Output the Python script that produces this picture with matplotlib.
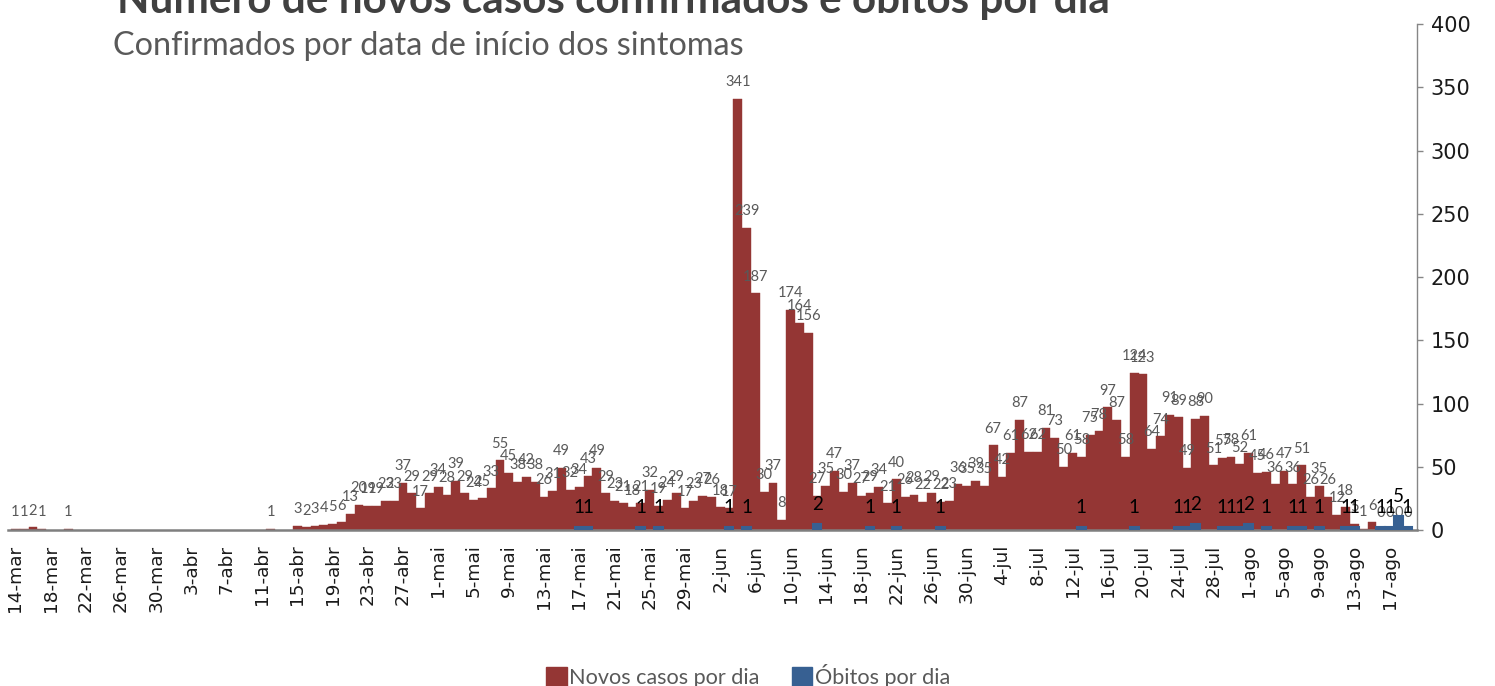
import numpy as np
import pandas as pd
import matplotlib
matplotlib.use("Agg")
import matplotlib.pyplot as plt
from matplotlib.patches import Patch

N = None

# novos casos por dia (14-mar .. 19-ago); None = sem registo
casos_mar = [1, 1, 2, 1, N, N, 1, N, N, N, N, N, N, N, N, N, N, N]
casos_abr = [N, N, N, N, N, N, N, N, N, N, N, 1, N, N, 3, 2, 3, 4, 5, 6,
             13, 20, 19, 19, 23, 23, 37, 29, 17, 29]
casos_mai = [34, 28, 39, 29, 24, 25, 33, 55, 45, 38, 42, 38, 26, 31, 49, 32,
             34, 43, 49, 29, 23, 21, 18, 21, 32, 19, 24, 29, 17, 23, 27]
casos_jun = [26, 18, 17, 341, 239, 187, 30, 37, 8, 174, 164, 156, 27, 35, 47,
             30, 37, 27, 29, 34, 21, 40, 26, 28, 22, 29, 22, 23, 36, 35]
casos_jul = [39, 35, 67, 42, 61, 87, 62, 62, 81, 73, 50, 61, 58, 75, 78, 97,
             87, 58, 124, 123, 64, 74, 91, 89, 49, 88, 90, 51, 57, 58, 52]
casos_ago = [61, 45, 46, 36, 47, 36, 51, 26, 35, 26, 12, 18, 5, 1, 6, 0, 0, 0, 0]

# óbitos por dia
obitos_mar = [N] * 18
obitos_abr = [N] * 30
obitos_mai = [N, N, N, N, N, N, N, N, N, N, N, N, N, N, N, N, 1, 1, N, N,
              N, N, N, 1, N, 1, N, N, N, N, N]
obitos_jun = [N, N, 1, N, 1, N, N, N, N, N, N, N, 2, N, N, N, N, N, 1, N,
              N, 1, N, N, N, N, 1, N, N, N]
obitos_jul = [N, N, N, N, N, N, N, N, N, N, N, N, 1, N, N, N, N, N, 1, N,
              N, N, N, 1, 1, 2, N, N, 1, 1, 1]
obitos_ago = [2, N, 1, N, N, 1, 1, N, 1, N, N, 1, 1, N, N, 1, 1, 5, 1]

casos = casos_mar + casos_abr + casos_mai + casos_jun + casos_jul + casos_ago
obitos = obitos_mar + obitos_abr + obitos_mai + obitos_jun + obitos_jul + obitos_ago

meses = {3: "mar", 4: "abr", 5: "mai", 6: "jun", 7: "jul", 8: "ago"}
datas = pd.date_range("2020-03-14", periods=len(casos))
rotulos = [f"{d.day}-{meses[d.month]}" for d in datas]

cor_casos = "#943634"
cor_obitos = "#376092"
cinza = "#595959"

x = np.arange(len(casos))
y_casos = np.array([np.nan if v is None else v for v in casos], dtype=float)
y_obitos = np.array([np.nan if v is None else v for v in obitos], dtype=float)

fig = plt.figure(figsize=(14.95, 6.86), dpi=100)
ax = fig.add_axes([0.0053, 0.2274, 0.9425, 0.7376])

ax.bar(x, y_casos, width=1.0, color=cor_casos, edgecolor=cor_casos, linewidth=0.3)
for xi, v in zip(x, casos):
    if v is not None:
        ax.annotate(str(v), (xi, v), xytext=(0, 7), textcoords="offset points",
                    ha="center", va="bottom", fontsize=10.5, color=cinza, family="Lato")

# óbitos num eixo secundário escondido
ax2 = ax.twinx()
ax2.bar(x, y_obitos, width=1.0, color=cor_obitos, edgecolor=cor_obitos, linewidth=1.5)
for xi, v in zip(x, obitos):
    if v is not None:
        ax2.annotate(str(v), (xi, v), xytext=(0, 8), textcoords="offset points",
                     ha="center", va="bottom", fontsize=13.5, color="black", family="Lato")
ax2.set_ylim(0, 180)
ax2.set_axis_off()

ax.set_xlim(-0.85, 159.1)
ax.set_ylim(0, 400)
ax.set_yticks(np.arange(0, 401, 50))
ax.yaxis.tick_right()
ax.set_xticks(x[::4])
ax.set_xticklabels(rotulos[::4], rotation=90)
ax.tick_params(axis="x", length=0, pad=10.5, labelsize=13.3, labelcolor="#1a1a1a")
ax.tick_params(axis="y", length=4.5, width=1, color="#868686", pad=5.5,
               labelsize=15, labelcolor="#1a1a1a")
for s in ["top", "left"]:
    ax.spines[s].set_visible(False)
ax.spines["bottom"].set_color("#7f7f7f")
ax.spines["bottom"].set_linewidth(1.8)
ax.spines["right"].set_color("#868686")
ax.spines["right"].set_linewidth(1)

fig.text(117 / 1495, 0.981, "Número de novos casos confirmados e óbitos por dia",
         fontsize=30.4, fontweight="bold", color="#404040", family="Lato", va="baseline")
fig.text(113 / 1495, 0.92, "Confirmados por data de início dos sintomas",
         fontsize=23.3, color=cinza, family="Lato", va="baseline")

handles = [Patch(color=cor_casos), Patch(color=cor_obitos)]
fig.legend(handles, ["Novos casos por dia", "Óbitos por dia"], loc="center",
           bbox_to_anchor=(748 / 1495, 0.0146), ncol=2, frameon=False,
           prop={"family": "Lato", "size": 15.6}, labelcolor=cinza,
           handlelength=0.95, handleheight=0.95, handletextpad=0.1, columnspacing=1.5)

fig.savefig("out.png", dpi=100)
